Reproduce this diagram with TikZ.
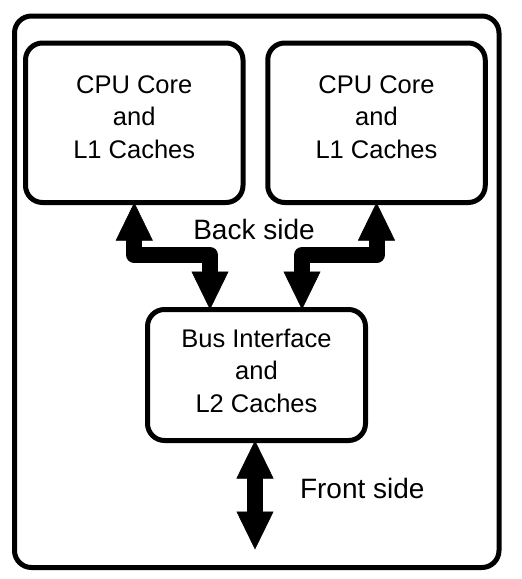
\documentclass[tikz,border=0pt]{standalone}
\usepackage{fontspec}
\setmainfont{Liberation Sans}
\usepackage{tikz}
\usetikzlibrary{arrows.meta}
\usetikzlibrary{positioning}
\tikzset{unit/.style = {draw, line width=5pt, rounded corners=17pt, align=center,
                        outer sep=0pt, font=\fontsize{25.5}{32.5}\selectfont},
         fat/.style = {line width=16pt, line join=round,
                       >={Triangle[width=37pt, length=38pt, line width=0.5pt]}, <->},
         side/.style = {font=\fontsize{28}{34}\selectfont}}

\begin{document}
\begin{tikzpicture}[x=1pt, y=-1pt]
    \useasboundingbox (0, 0) rectangle (522, 579);
    \draw [line width=5pt, rounded corners=17pt] (14.5, 16) rectangle (499, 567.5);

    \node [unit, minimum width=217.5pt, minimum height=159.5pt, text depth=12pt] (cpuL) at (134.25, 122.75) {CPU Core\\and\\L1 Caches};
    \node [unit, minimum width=217.5pt, minimum height=159.5pt, text depth=12pt] (cpuR) at (376.5, 122.75) {CPU Core\\and\\L1 Caches};
    \node [unit, minimum width=218pt, minimum height=131pt, text depth=9pt] (bus) at (256.5, 375) {Bus Interface\\and\\L2 Caches};

    \draw [fat] (cpuL.south) |- (210, 255) -- ([xshift=-46.5pt]bus.north);
    \draw [fat] (cpuR.south) |- (302, 255) -- ([xshift=45.5pt]bus.north);
    \coordinate (ext) at ([xshift=-1.5pt, yshift=-109pt]bus.south);
    \draw [fat] ([xshift=-1.5pt]bus.south) -- (ext);

    \node [side, anchor=base] (back) at (254, 239) {Back side};
    \node [side, anchor=base west] (front) at (296.5, 498) {Front side};
  \end{tikzpicture}
\end{document}
